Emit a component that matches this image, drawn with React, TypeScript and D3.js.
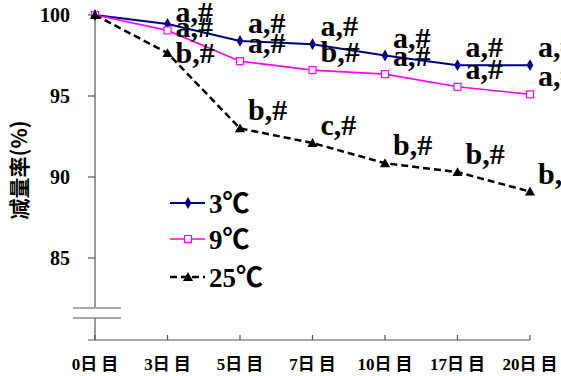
import React from 'react'
import * as d3 from 'd3'

// days of storage
const categories = ['0日 目', '3日 目', '5日 目', '7日 目', '10日 目', '17日 目', '20日 目']
const yTicks = [85, 90, 95, 100]

// weight retention (%) per storage temperature
const series3 = [100, 99.45, 98.4, 98.2, 97.5, 96.9, 96.9]
const series9 = [100, 99.05, 97.15, 96.6, 96.35, 95.57, 95.1]
const series25 = [100, 97.65, 93.0, 92.1, 90.85, 90.3, 89.1]
const err9 = [0, 0.08, 0.08, 0.08, 0.08, 0.08, 0.08]

const labels3 = ['', 'a,#', 'a,#', 'a,#', 'a,#', 'a,#', 'a,#']
const labels9 = ['', 'a,#', 'a,#', 'b,#', 'a,#', 'a,#', 'a,#']
const labels25 = ['', 'b,#', 'b,#', 'c,#', 'b,#', 'b,#', 'b,#']

const names = ['3℃', '9℃', '25℃']

const W = 561
const H = 376
const serif = '"Liberation Serif", "Times New Roman", "Noto Sans CJK SC", serif'

export default function App () {
  const x = d3.scalePoint<string>().domain(categories).range([95, 530])
  const y = d3.scaleLinear().domain([85, 100]).range([258, 15])
  const line = d3.line<number>()
    .x((d, i) => x(categories[i]) as number)
    .y(d => y(d))

  const diamond = d3.symbol().type(d3.symbolDiamond).size(40)
  const tri = d3.symbol().type(d3.symbolTriangle).size(45)

  const allSeries = [
    { vals: series3, labels: labels3, color: '#000080', dash: null, width: 2 },
    { vals: series9, labels: labels9, color: '#ff00ff', dash: null, width: 1.6 },
    { vals: series25, labels: labels25, color: '#000', dash: '7,4', width: 2.5 }
  ]

  // 3日 labels are stacked differently in the original
  const labelDy = (s: number, i: number) => {
    if (i === 1) return [-2, 7, 10][s]
    return -8
  }

  const axisColor = '#555'
  const x0 = 95
  const xAxisY = 340

  const marker = (s: number, cx: number, cy: number, key: string) => {
    if (s === 0) return <path key={key} d={diamond() as string} transform={`translate(${cx},${cy})`} fill='#000080' />
    if (s === 1) return <rect key={key} x={cx - 3.5} y={cy - 3.5} width={7} height={7} fill='#fff' stroke='#ff00ff' strokeWidth={1.2} />
    return <path key={key} d={tri() as string} transform={`translate(${cx},${cy + 1})`} fill='#000' />
  }

  return (
    <svg width={W} height={H} style={{ position: 'absolute', left: 0, top: 0, background: '#fff' }}>
      {/* y axis with break */}
      <line x1={x0} x2={x0} y1={y(100)} y2={307} stroke={axisColor} strokeWidth={1.2} />
      <line x1={x0} x2={x0} y1={318} y2={xAxisY} stroke={axisColor} strokeWidth={1.2} />
      <line x1={73} x2={121} y1={308} y2={308} stroke={axisColor} strokeWidth={1.2} />
      <line x1={73} x2={121} y1={318} y2={318} stroke={axisColor} strokeWidth={1.2} />
      {yTicks.map(t => (
        <g key={t}>
          <line x1={88} x2={x0} y1={y(t)} y2={y(t)} stroke={axisColor} strokeWidth={1.2} />
          <text x={70} y={y(t) + 7} textAnchor='end' fontFamily={serif} fontWeight='bold' fontSize={20}>{t}</text>
        </g>
      ))}
      <text transform='translate(27,170) rotate(-90)' textAnchor='middle' fontFamily='"Noto Sans CJK SC", sans-serif' fontWeight='bold' fontSize={21}>减量率(%)</text>

      {/* x axis */}
      <line x1={88} x2={x(categories[categories.length - 1])} y1={xAxisY} y2={xAxisY} stroke={axisColor} strokeWidth={1.2} />
      {categories.map(c => (
        <g key={c}>
          <line x1={x(c)} x2={x(c)} y1={xAxisY - 5} y2={xAxisY} stroke={axisColor} strokeWidth={1.2} />
          <text x={x(c)} y={370} textAnchor='middle' fontFamily={serif} fontWeight='bold' fontSize={17}>{c}</text>
        </g>
      ))}

      {/* series */}
      {allSeries.map((s, si) => (
        <g key={si}>
          <path d={line(s.vals) as string} fill='none' stroke={s.color} strokeWidth={s.width} strokeDasharray={s.dash || undefined} />
          {si === 1 && s.vals.map((v, i) => err9[i] > 0 && (
            <g key={'e' + i} stroke='#000' strokeWidth={0.8}>
              <line x1={x(categories[i])} x2={x(categories[i])} y1={y(v + err9[i])} y2={y(v - err9[i])} />
              <line x1={(x(categories[i]) as number) - 2} x2={(x(categories[i]) as number) + 2} y1={y(v + err9[i])} y2={y(v + err9[i])} />
              <line x1={(x(categories[i]) as number) - 2} x2={(x(categories[i]) as number) + 2} y1={y(v - err9[i])} y2={y(v - err9[i])} />
            </g>
          ))}
          {s.vals.map((v, i) => marker(si, x(categories[i]) as number, y(v), 'm' + i))}
          {s.labels.map((l, i) => l && (
            <text key={'l' + i} x={(x(categories[i]) as number) + 8} y={y(s.vals[i]) + labelDy(si, i)}
              fontFamily={serif} fontWeight='bold' fontSize={30}>{l}</text>
          ))}
        </g>
      ))}

      {/* legend */}
      {allSeries.map((s, si) => {
        const ly = [203, 239, 277][si]
        return (
          <g key={'lg' + si}>
            <line x1={170} x2={205} y1={ly} y2={ly} stroke={s.color} strokeWidth={s.width} strokeDasharray={s.dash || undefined} />
            {marker(si, 188, ly, 'lm' + si)}
            <text x={209} y={ly + 10} fontFamily={serif} fontWeight='bold' fontSize={27}>{names[si]}</text>
          </g>
        )
      })}
    </svg>
  )
}
